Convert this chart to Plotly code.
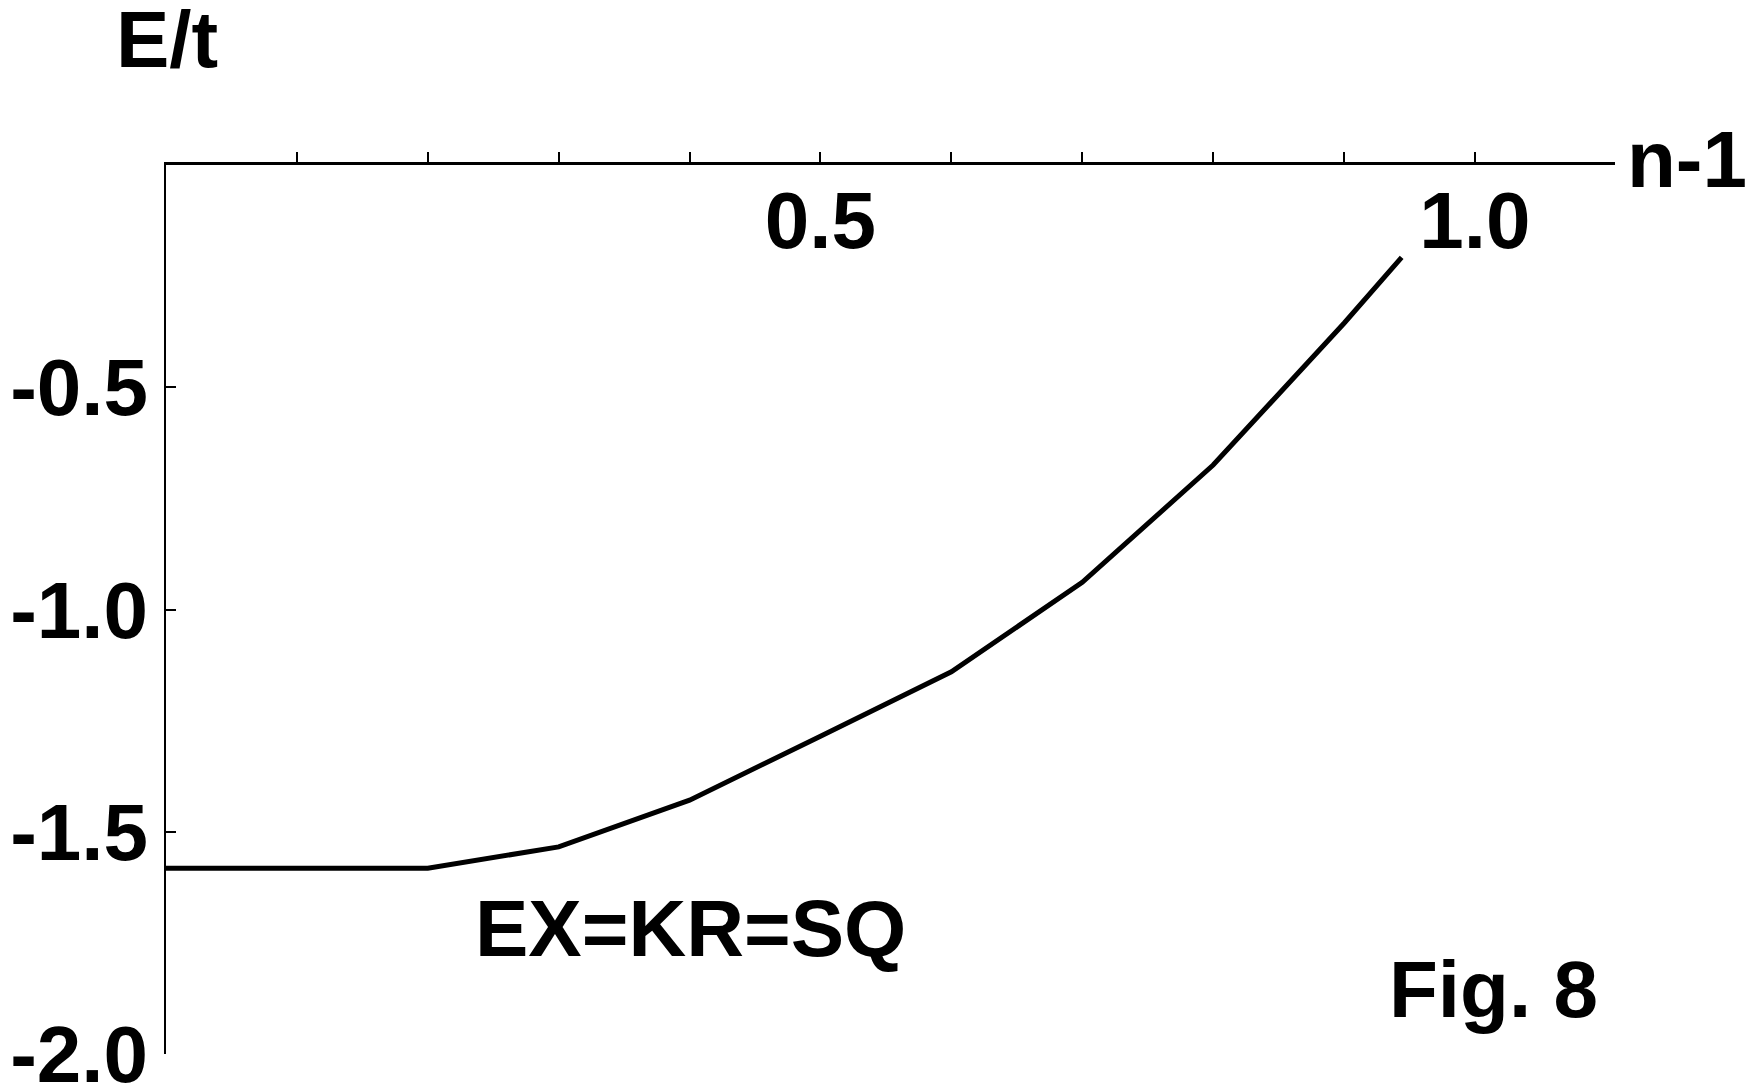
import plotly.graph_objects as go

# Data
n_minus_1 = [0.0, 0.2, 0.3, 0.4, 0.5, 0.6, 0.7, 0.8, 0.9, 0.944]
energy = [-1.582, -1.582, -1.534, -1.429, -1.285, -1.140, -0.939, -0.675, -0.356, -0.208]

x_tickvals = [0.1, 0.2, 0.3, 0.4, 0.5, 0.6, 0.7, 0.8, 0.9, 1.0]
x_ticktext = ["", "", "", "", "0.5", "", "", "", "", "1.0"]
y_tickvals = [-0.5, -1.0, -1.5, -2.0]
y_ticktext = ["-0.5", "-1.0", "-1.5", "-2.0"]

FONT = "Liberation Sans, Arial, sans-serif"
FS = 80

fig = go.Figure()
fig.add_trace(go.Scatter(
    x=n_minus_1, y=energy, mode="lines",
    line=dict(color="black", width=5),
    showlegend=False, hoverinfo="skip", cliponaxis=False,
))

fig.update_layout(
    width=1753, height=1089,
    margin=dict(l=157.5, r=146.4, t=156.8, b=43),
    paper_bgcolor="white", plot_bgcolor="white",
    font=dict(family=FONT, size=FS, color="black"),
    xaxis=dict(
        range=[0, 1.107], side="top", showgrid=False, zeroline=False,
        automargin=False,
        showline=True, linecolor="black", linewidth=3,
        ticks="outside", ticklen=10, tickwidth=2, tickcolor="black",
        tickvals=x_tickvals, ticktext=x_ticktext,
        ticklabelposition="inside", ticklabelstandoff=40,
        ticklabeloverflow="allow",
        tickfont=dict(family=FONT, size=FS, color="black", weight="bold"),
    ),
    yaxis=dict(
        range=[-2.0, 0], showgrid=False, zeroline=False,
        automargin=False,
        showline=True, linecolor="black", linewidth=2,
        ticks="inside", ticklen=10, tickwidth=2, tickcolor="black",
        tickvals=y_tickvals, ticktext=y_ticktext,
        ticklabelstandoff=0, ticklabeloverflow="allow",
        tickfont=dict(family=FONT, size=FS, color="black", weight="bold"),
    ),
    annotations=[
        dict(text="<b>E/t</b>", xref="paper", yref="paper", x=-0.0362, y=1.1415,
             xanchor="left", yanchor="middle", showarrow=False,
             font=dict(family=FONT, size=FS, color="black")),
        dict(text="<b>n-1</b>", xref="paper", yref="paper", x=1.0072, y=1.0065,
             xanchor="left", yanchor="middle", showarrow=False,
             font=dict(family=FONT, size=FS, color="black")),
        dict(text="<b>EX=KR=SQ</b>", xref="paper", yref="paper", x=0.2122, y=0.1411,
             xanchor="left", yanchor="middle", showarrow=False,
             font=dict(family=FONT, size=FS, color="black")),
        dict(text="<b>Fig. 8</b>", xref="paper", yref="paper", x=0.8427, y=0.0720,
             xanchor="left", yanchor="middle", showarrow=False,
             font=dict(family=FONT, size=FS, color="black")),
    ],
)

fig.write_html("out.html")
